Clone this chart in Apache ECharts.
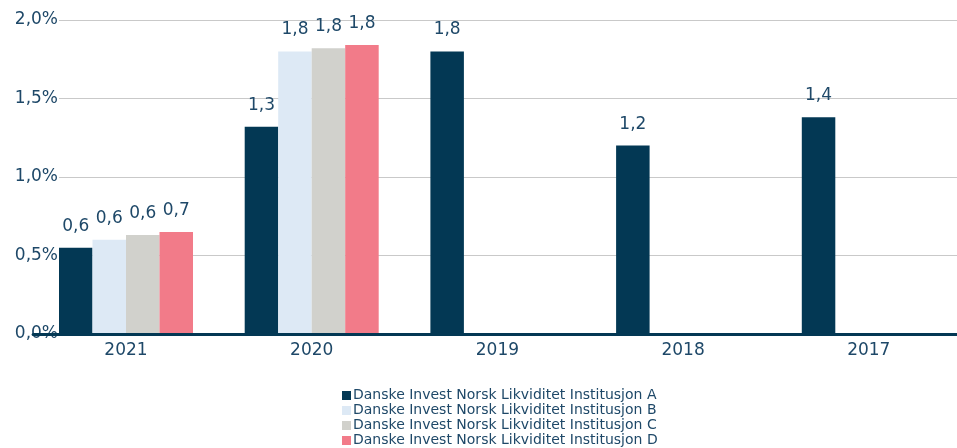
<!DOCTYPE html>
<html>
<head>
<meta charset="utf-8">
<script src="https://cdn.jsdelivr.net/npm/echarts@6/dist/echarts.min.js"></script>
<style>html,body{margin:0;padding:0;background:#fff;overflow:hidden;}#c{width:970px;height:448px;}</style>
</head>
<body>
<div id="c"></div>
<script>
const categories = ['2021', '2020', '2019', '2018', '2017'];
const seriesNames = [
  'Danske Invest Norsk Likviditet Institusjon A',
  'Danske Invest Norsk Likviditet Institusjon B',
  'Danske Invest Norsk Likviditet Institusjon C',
  'Danske Invest Norsk Likviditet Institusjon D'
];
const valuesA = [0.55, 1.32, 1.80, 1.20, 1.38];
const valuesB = [0.60, 1.80, null, null, null];
const valuesC = [0.63, 1.82, null, null, null];
const valuesD = [0.65, 1.84, null, null, null];
const yTicks = [0, 0.5, 1.0, 1.5, 2.0];
const colors = ['#033854', '#dde9f5', '#d1d1cc', '#f27b89'];
const textColor = '#1e4868';
const font = 'DejaVu Sans';

const allValues = [valuesA, valuesB, valuesC, valuesD];
const fmt = v => v.toFixed(1).replace('.', ',');

const chart = echarts.init(document.getElementById('c'));
chart.setOption({
  animation: false,
  textStyle: { fontFamily: font },
  legend: {
    orient: 'vertical',
    left: 342,
    top: 388,
    padding: 0,
    height: 70,
    itemWidth: 9,
    itemHeight: 9,
    itemGap: 0,
    icon: 'rect',
    data: seriesNames,
    textStyle: { color: textColor, fontSize: 14, lineHeight: 15, fontFamily: font, padding: [0, 0, 0, -3] }
  },
  grid: [
    { left: 33.15, top: 20, width: 928.5, bottom: 114 },
    { left: 59, top: 20, right: 13, bottom: 114 }
  ],
  xAxis: [
    {
      type: 'category', gridIndex: 0, data: categories,
      axisLine: { show: true, lineStyle: { color: '#033854', width: 3 } },
      axisTick: { show: false },
      axisLabel: { color: textColor, fontSize: 17, margin: 8, fontFamily: font },
      z: 10
    },
    {
      type: 'category', gridIndex: 1, data: categories,
      show: false
    }
  ],
  yAxis: [
    {
      type: 'value', gridIndex: 0, min: 0, max: 2, interval: 0.5,
      show: false, splitLine: { show: false }
    },
    {
      type: 'value', gridIndex: 1, min: yTicks[0], max: yTicks[yTicks.length - 1], interval: 0.5,
      axisLine: { show: false }, axisTick: { show: false },
      axisLabel: {
        color: textColor, fontSize: 17, margin: 1, fontFamily: font,
        formatter: v => v.toFixed(1).replace('.', ',') + '%'
      },
      splitLine: { show: true, lineStyle: { color: '#c9c9c9', width: 1.2 } }
    }
  ],
  series: allValues.map((vals, i) => ({
    name: seriesNames[i],
    type: 'bar',
    xAxisIndex: 0,
    yAxisIndex: 0,
    data: vals,
    barWidth: 33.5,
    barGap: '0%',
    itemStyle: { color: colors[i] },
    z: 3,
    label: {
      show: true,
      position: 'top',
      distance: 13,
      color: textColor,
      fontSize: 17,
      fontFamily: font,
      formatter: p => p.value == null ? '' : fmt(p.value)
    }
  }))
});
</script>
</body>
</html>
